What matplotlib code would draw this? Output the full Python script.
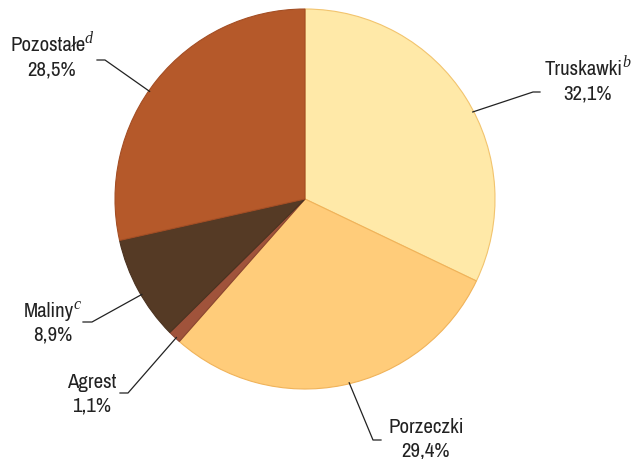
import numpy as np
import matplotlib.pyplot as plt

plt.rcParams['font.family'] = ['Liberation Sans Narrow', 'Arial Narrow', 'Archivo Narrow', 'DejaVu Sans']

# data
labels = ['Truskawki', 'Porzeczki', 'Agrest', 'Maliny', 'Pozostałe']
marks = ['b', '', '', 'c', 'd']
shares = [32.1, 29.4, 1.1, 8.9, 28.5]
colors = ['#FFE9A8', '#FFCC7A', '#A0533B', '#553A25', '#B5592A']
edges = ['#F2C46E', '#F0B35A', '#8A4530', '#4A3220', '#A44E24']

# label placement (pixel coords, y from top): x centre, baseline of name, baseline of percent
text_pos = [(588, 75, 99), (426, 433, 457), (92, 388, 412), (53, 317, 341), (52, 51, 75)]
elbow = [((540, 93), (533, 93)), ((381, 441), (373, 441)),
         ((120, 394), (128, 394)), ((83, 323), (92, 323)),
         ((97, 61), (105, 61))]
leader_shift = [-4.8, 2.0, 0.5, 1.7, 4.0]  # degrees off the wedge middle

W, H = 635, 460
cx, cy, r = 305, H - 200, 190

fig = plt.figure(figsize=(W / 100, H / 100), dpi=100)
ax = fig.add_axes([0, 0, 1, 1])

wedges, _ = ax.pie(shares, colors=colors, startangle=90, counterclock=False,
                   center=(cx, cy), radius=r, frame=True,
                   wedgeprops=dict(linewidth=0.8))
for w, ec in zip(wedges, edges):
    w.set_edgecolor(ec)

for i, w in enumerate(wedges):
    ang = np.deg2rad((w.theta1 + w.theta2) / 2 + leader_shift[i])
    px, py = cx + (r - 1) * np.cos(ang), cy + (r - 1) * np.sin(ang)
    (ax0, ay0), (ax1, ay1) = elbow[i]
    ax.plot([ax0, ax1, px], [H - ay0, H - ay1, py], color='#222222', lw=0.9)

    tx, y1, y2 = text_pos[i]
    pct = f'{shares[i]:.1f}%'.replace('.', ',')
    shift = 4 if marks[i] else 0
    t = ax.text(tx - shift, H - y1, labels[i], ha='center', va='baseline',
                fontsize=15, color='#222222')
    if marks[i]:
        ax.annotate(marks[i], xy=(1, 0), xycoords=t, xytext=(-0.5, 8.5),
                    textcoords='offset points', ha='left', va='baseline',
                    fontsize=11.5, family='Liberation Serif', style='italic',
                    color='#222222')
    ax.text(tx, H - y2, pct, ha='center', va='baseline',
            fontsize=15, color='#222222')

ax.set_xlim(0, W)
ax.set_ylim(0, H)
ax.set_aspect('auto')
ax.axis('off')

fig.savefig('out.png', dpi=100, facecolor='white')
